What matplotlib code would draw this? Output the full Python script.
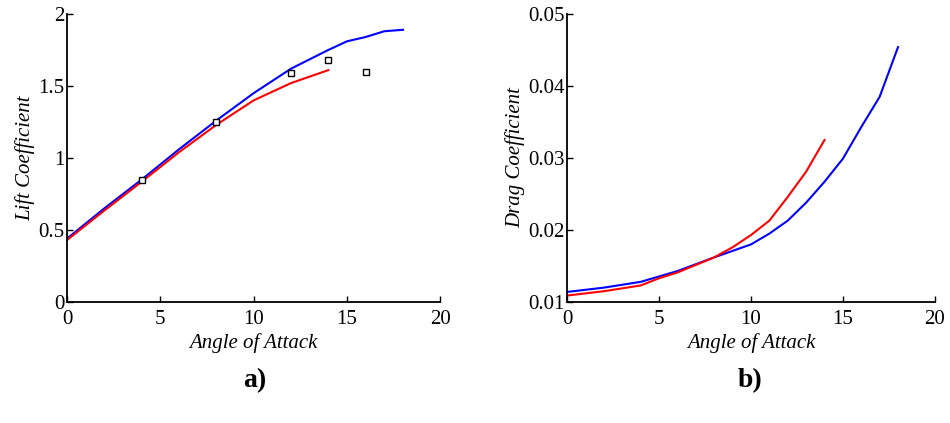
import numpy as np
import matplotlib.pyplot as plt

plt.rcParams['font.family'] = ['Liberation Serif', 'DejaVu Serif']

# --- lift data ---
alpha_blue_cl = [0, 2, 4, 6, 8, 10, 12, 14, 15, 16, 17, 18]
cl_blue = [0.44, 0.65, 0.85, 1.06, 1.26, 1.45, 1.62, 1.75, 1.81, 1.84, 1.88, 1.89]
alpha_red_cl = [0, 2, 4, 6, 8, 10, 12, 13, 14]
cl_red = [0.43, 0.635, 0.835, 1.04, 1.23, 1.40, 1.52, 1.565, 1.61]
alpha_exp = [4, 8, 12, 14, 16]
cl_exp = [0.85, 1.25, 1.59, 1.68, 1.60]

# --- drag data ---
alpha_blue_cd = [0, 2, 4, 6, 8, 10, 11, 12, 13, 14, 15, 16, 17, 18]
cd_blue = [0.0114, 0.0120, 0.0128, 0.0143, 0.0162, 0.0180, 0.0195, 0.0213, 0.0238, 0.0267, 0.0299, 0.0343, 0.0385, 0.0454]
alpha_red_cd = [0, 2, 4, 5, 6, 8, 9, 10, 11, 12, 13, 14]
cd_red = [0.0109, 0.0115, 0.0123, 0.0133, 0.0141, 0.0162, 0.0176, 0.0193, 0.0213, 0.0246, 0.0281, 0.0325]

fig = plt.figure(figsize=(9.5, 4.23), dpi=100)
ax1 = fig.add_axes([0.0705, 0.286, 0.393, 0.681])
ax2 = fig.add_axes([0.597, 0.286, 0.387, 0.681])

ax1.plot(alpha_blue_cl, cl_blue, color='blue', lw=1.5)
ax1.plot(alpha_red_cl, cl_red, color='red', lw=1.5)
ax1.plot(alpha_exp, cl_exp, 's', mfc='white', mec='black', ms=4, mew=1.0)
ax1.set_xlim(0, 20)
ax1.set_ylim(0, 2)
ax1.set_xticks([0, 5, 10, 15, 20])
ax1.set_yticks([0, 0.5, 1, 1.5, 2])
ax1.set_yticklabels(['0', '0.5', '1', '1.5', '2'])
ax1.set_xlabel('Angle of Attack', style='italic', fontsize=15, labelpad=3)
ax1.set_ylabel('Lift Coefficient', style='italic', fontsize=15, labelpad=2)

ax2.plot(alpha_blue_cd, cd_blue, color='blue', lw=1.5)
ax2.plot(alpha_red_cd, cd_red, color='red', lw=1.5)
ax2.set_xlim(0, 20)
ax2.set_ylim(0.01, 0.05)
ax2.set_xticks([0, 5, 10, 15, 20])
ax2.set_yticks([0.01, 0.02, 0.03, 0.04, 0.05])
ax2.set_yticklabels(['0.01', '0.02', '0.03', '0.04', '0.05'])
ax2.set_xlabel('Angle of Attack', style='italic', fontsize=15, labelpad=3)
ax2.set_ylabel('Drag Coefficient', style='italic', fontsize=15, labelpad=2)

for ax in (ax1, ax2):
    ax.spines['top'].set_visible(False)
    ax.spines['right'].set_visible(False)
    ax.spines['left'].set_linewidth(1.3)
    ax.spines['bottom'].set_linewidth(1.3)
    ax.tick_params(direction='in', length=4, width=1.0, labelsize=15)
    ax.tick_params(axis='x', pad=6)
    ax.tick_params(axis='y', pad=2)

fig.text(0.268, 0.10, 'a)', fontsize=20, fontweight='bold', ha='center', va='center')
fig.text(0.790, 0.10, 'b)', fontsize=20, fontweight='bold', ha='center', va='center')

fig.savefig('out.png', dpi=100)
